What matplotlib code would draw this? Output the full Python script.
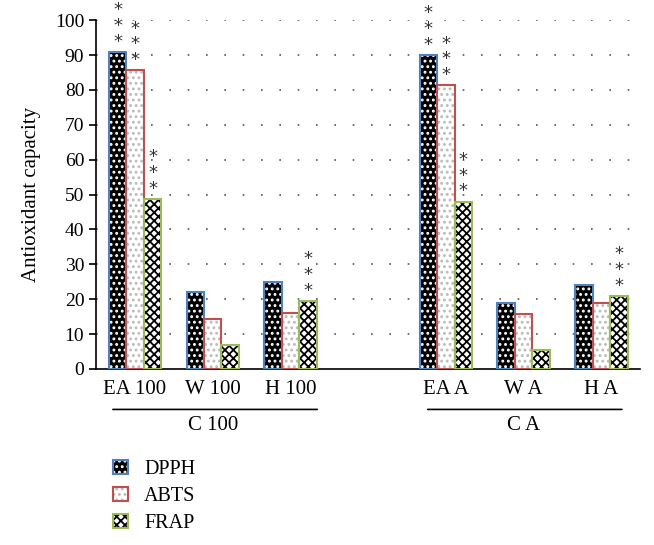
import matplotlib

matplotlib.use("Agg")
import matplotlib.pyplot as plt
from matplotlib.patches import Patch
from matplotlib.legend_handler import HandlerTuple
import numpy as np

plt.rcParams["font.family"] = ["Liberation Serif", "DejaVu Serif"]
plt.rcParams["hatch.linewidth"] = 1.3

extracts = ["EA 100", "W 100", "H 100", "EA A", "W A", "H A"]
groups = ["C 100", "C A"]
dpph = [91.0, 22.0, 25.0, 90.0, 18.8, 24.0]
abts = [85.6, 14.4, 16.0, 81.3, 15.8, 18.9]
frap = [48.8, 6.9, 19.6, 48.0, 5.5, 21.0]
# significance marks (***) per series
sig_dpph = [True, False, False, True, False, False]
sig_abts = [True, False, False, True, False, False]
sig_frap = [True, False, True, True, False, True]

x = np.array([0, 1, 2, 4, 5, 6])
width = 0.225

fig = plt.figure(figsize=(6.54, 5.45), dpi=100)
ax = fig.add_axes([0.147, 0.323, 0.832, 0.64])

styles = [
    ("DPPH", dpph, sig_dpph, "black", "white", "...", "#4F81BD"),
    ("ABTS", abts, sig_abts, "white", "#bbbbbb", "...", "#C0504D"),
    ("FRAP", frap, sig_frap, "white", "black", "xxxx", "#9BBB59"),
]
handles = []
for i, (name, vals, sig, fc, hc, hatch, ec) in enumerate(styles):
    pos = x + (i - 1) * width
    for p, v in zip(pos, vals):
        ax.bar(p, v, width, color=fc, hatch=hatch, edgecolor=hc, linewidth=0, zorder=2)
        ax.bar(p, v, width, fill=False, edgecolor=ec, linewidth=1.5, zorder=3)
    for p, v, s in zip(pos, vals, sig):
        if s:
            ax.text(p, v + 0.3, "*\n*\n*", ha="center", va="bottom", linespacing=0.85,
                    fontsize=13, family="DejaVu Sans", color="#333333")
    handles.append((Patch(facecolor=fc, hatch=hatch, edgecolor=hc, linewidth=0),
                    Patch(fill=False, edgecolor=ec, linewidth=1.5)))

ax.set_xlim(-0.5, 6.5)
ax.set_ylim(0, 100)
ax.set_yticks(np.arange(0, 101, 10))
ax.tick_params(axis="y", labelsize=14, direction="out", length=5, width=1.2)
ax.set_xticks(x)
ax.set_xticklabels(extracts, fontsize=15)
ax.tick_params(axis="x", length=0, pad=8)
ax.set_ylabel("Antioxidant capacity", fontsize=15, labelpad=10)
for y in range(10, 101, 10):
    ax.axhline(y, color="#555555", linestyle=(0, (1, 10)), linewidth=1.2, zorder=1)
for s in ["top", "right"]:
    ax.spines[s].set_visible(False)
ax.spines["left"].set_linewidth(1.2)
ax.spines["bottom"].set_linewidth(1.2)

# group brackets below the tick labels
for g, centre, (x0, x1) in zip(groups, [1, 5], [(-0.32, 2.38), (3.73, 6.3)]):
    ax.annotate("", xy=(x0, -11.6), xytext=(x1, -11.6), xycoords="data",
                arrowprops=dict(arrowstyle="-", lw=1.2, color="black"), annotation_clip=False)
    ax.text(centre, -13.5, g, ha="center", va="top", fontsize=15, clip_on=False)

fig.legend(handles=handles, labels=[s[0] for s in styles],
           handler_map={tuple: HandlerTuple(ndivide=1, pad=0)},
           loc="upper left", bbox_to_anchor=(0.145, 0.19),
           frameon=False, fontsize=14.5, handlelength=0.75, handleheight=0.75,
           labelspacing=0.38, handletextpad=0.8)

fig.savefig("out.png", dpi=100)
